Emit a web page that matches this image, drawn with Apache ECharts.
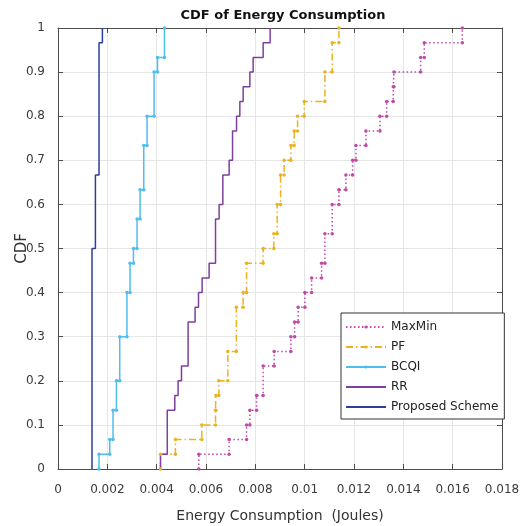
<!DOCTYPE html>
<html><head><meta charset="utf-8">
<script src="https://cdn.jsdelivr.net/npm/echarts@6/dist/echarts.min.js"></script>
<style>html,body{margin:0;padding:0;background:#fff}#c{width:527px;height:526px}</style>
</head><body><div id="c"></div>
<script>
const xTickLabels = ['0','0.002','0.004','0.006','0.008','0.01','0.012','0.014','0.016','0.018'];
const yTickLabels = ['0','0.1','0.2','0.3','0.4','0.5','0.6','0.7','0.8','0.9','1'];
const seriesNames = ['MaxMin','PF','BCQI','RR','Proposed Scheme'];

const maxMinX = [0.005708,0.006938,0.007644,0.007778,0.008049,0.008317,0.008763,0.009441,0.009591,0.009737,0.010009,0.010281,0.010686,0.01082,0.011116,0.011388,0.011672,0.011944,0.012078,0.012484,0.013052,0.013324,0.013591,0.01362,0.014703,0.014849,0.016391];
const maxMinY = [0.0333,0.0667,0.1,0.1333,0.1667,0.2333,0.2667,0.3,0.3333,0.3667,0.4,0.4333,0.4667,0.5333,0.6,0.6333,0.6667,0.7,0.7333,0.7667,0.8,0.8333,0.8667,0.9,0.9333,0.9667,1];

const pfX = [0.004155,0.00476,0.00583,0.006386,0.006398,0.00652,0.006885,0.00723,0.007506,0.007644,0.008317,0.008751,0.008885,0.009023,0.009169,0.009441,0.009575,0.009713,0.009981,0.01082,0.011116,0.011388];
const pfY = [0.0333,0.0667,0.1,0.1333,0.1667,0.2,0.2667,0.3667,0.4,0.4667,0.5,0.5333,0.6,0.6667,0.7,0.7333,0.7667,0.8,0.8333,0.9,0.9667,1];

const bcqiX = [0.001663,0.002098,0.002231,0.002369,0.002503,0.002795,0.002921,0.003059,0.003205,0.003327,0.003477,0.003611,0.003895,0.004033,0.004317];
const bcqiY = [0.0333,0.0667,0.1333,0.2,0.3,0.4,0.4667,0.5,0.5667,0.6333,0.7333,0.8,0.9,0.9333,1];

const rrX = [0.004155,0.00443,0.004735,0.004869,0.005006,0.005274,0.005558,0.005696,0.005842,0.006126,0.006386,0.006532,0.006682,0.006938,0.007076,0.007238,0.007372,0.007506,0.007778,0.007911,0.008317,0.008601];
const rrY = [0.0333,0.1333,0.1667,0.2,0.2333,0.3333,0.3667,0.4,0.4333,0.4667,0.5667,0.6,0.6667,0.7,0.7667,0.8,0.8333,0.8667,0.9,0.9333,0.9667,1];

const propX = [0.001379,0.001517,0.001663,0.0018];
const propY = [0.5,0.6667,0.9667,1];

function stairs(xs, ys) {
  const pts = [[xs[0], 0]];
  let prev = 0;
  for (let i = 0; i < xs.length; i++) {
    if (i > 0) pts.push([xs[i], prev]);
    pts.push([xs[i], ys[i]]);
    prev = ys[i];
  }
  return pts;
}

const FONT = "'DejaVu Sans', sans-serif";
const colors = ['#c14aa6','#edb120','#4dbeee','#7e3f9e','#2b3f9a'];
const lineTypes = [[1.5,2.5],[7,3,1.5,3],'solid','solid','solid'];
const withMarkers = [true,true,true,false,false];
const datasets = [[maxMinX,maxMinY],[pfX,pfY],[bcqiX,bcqiY],[rrX,rrY],[propX,propY]];

const series = datasets.map((d, i) => ({
  name: seriesNames[i],
  type: 'line',
  data: stairs(d[0], d[1]),
  xAxisIndex: 0, yAxisIndex: 0,
  color: colors[i],
  showSymbol: withMarkers[i],
  symbol: withMarkers[i] ? 'circle' : 'none',
  symbolSize: 3.5,
  lineStyle: { color: colors[i], width: 1.5, type: lineTypes[i] },
  itemStyle: { color: colors[i] },
  animation: false,
  clip: true,
  emphasis: { disabled: true }
}));

const legendData = seriesNames.map((n, i) => withMarkers[i]
  ? { name: n }
  : { name: n, itemStyle: { opacity: 0 } });

const axisCommon = {
  type: 'value',
  axisLine: { show: true, onZero: false, lineStyle: { color: '#4d4d4d', width: 1 } },
  axisTick: { show: true, inside: true, length: 5, lineStyle: { color: '#4d4d4d' } }
};

const chart = echarts.init(document.getElementById('c'), null, { renderer: 'canvas' });
chart.setOption({
  backgroundColor: '#fff',
  animation: false,
  title: {
    text: 'CDF of Energy Consumption',
    left: 278, top: 4, textAlign: 'center',
    textStyle: { fontFamily: FONT, fontSize: 13, fontWeight: 'bold', color: '#111' }
  },
  grid: { left: 58, right: 25, top: 28, bottom: 57, outerBoundsMode: 'none', containLabel: false },
  legend: {
    orient: 'vertical',
    left: 341, top: 313,
    data: legendData,
    itemWidth: 40, itemHeight: 4, itemGap: 8,
    padding: [8, 6, 6, 4],
    backgroundColor: '#fff',
    borderColor: '#333', borderWidth: 1,
    textStyle: { fontFamily: FONT, fontSize: 12, color: '#222' },
    selectedMode: false
  },
  xAxis: [
    Object.assign({}, axisCommon, {
      min: 0, max: 0.018, interval: 0.002, position: 'bottom',
      name: 'Energy Consumption  (Joules)', nameLocation: 'middle', nameGap: 40,
      nameTextStyle: { fontFamily: FONT, fontSize: 14, color: '#333' },
      axisLabel: { fontFamily: FONT, fontSize: 12, color: '#3a3a3a', margin: 15,
        formatter: (v, idx) => xTickLabels[idx] },
      splitLine: { show: true, lineStyle: { color: '#e6e6e6', width: 1 } }
    }),
    Object.assign({}, axisCommon, {
      min: 0, max: 0.018, interval: 0.002, position: 'top',
      axisLabel: { show: false }, splitLine: { show: false }
    })
  ],
  yAxis: [
    Object.assign({}, axisCommon, {
      min: 0, max: 1, interval: 0.1, position: 'left',
      name: 'CDF', nameLocation: 'middle', nameGap: 28, nameMoveOverlap: false,
      nameTextStyle: { fontFamily: FONT, fontSize: 15, color: '#333' },
      axisLabel: { fontFamily: FONT, fontSize: 12, color: '#3a3a3a', margin: 13,
        formatter: (v, idx) => yTickLabels[idx] },
      splitLine: { show: true, lineStyle: { color: '#e6e6e6', width: 1 } }
    }),
    Object.assign({}, axisCommon, {
      min: 0, max: 1, interval: 0.1, position: 'right',
      axisLabel: { show: false }, splitLine: { show: false }
    })
  ],
  series: series
});
</script>
</body></html>
